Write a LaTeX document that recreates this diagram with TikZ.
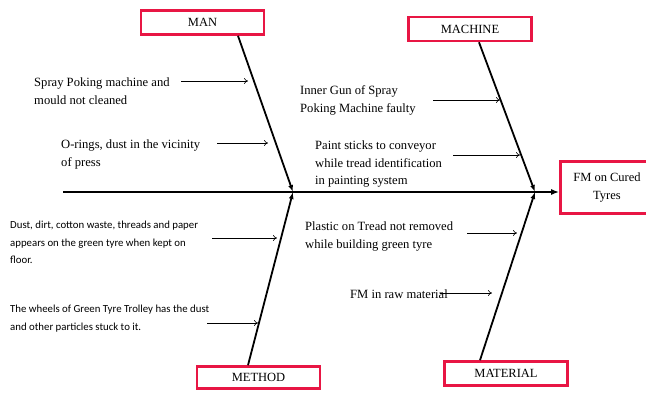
\documentclass[tikz,border=0pt]{standalone}
\usepackage{fontspec}
\setmainfont{Liberation Serif}
\newfontfamily\calibri{Carlito}
\usetikzlibrary{arrows.meta, calc}
\definecolor{boxred}{RGB}{232,22,68}

\begin{document}
\begin{tikzpicture}[x=1pt, y=-1pt, >=latex,
    catbox/.style={draw=boxred, line width=2.6pt, inner sep=0pt,
        minimum width=123pt, minimum height=24pt,
        font=\fontsize{12.5}{15}\selectfont},
    cause/.style={anchor=west, align=left, inner sep=0pt,
        font=\fontsize{12.6}{17.5}\selectfont},
    causesans/.style={anchor=west, align=left, inner sep=0pt,
        font=\calibri\fontsize{10.8}{17.5}\selectfont},
    bone/.style={line width=1.8pt, -{Latex[length=7pt, width=5pt]}},
    spine/.style={line width=2.2pt, -{Latex[length=8pt, width=6pt]}},
    causearrow/.style={line width=0.6pt, -{To[length=4pt, width=6pt]}}]
    \useasboundingbox (0,0) rectangle (646,392);
    \clip (0,0) rectangle (646,392);

    % categories and effect
    \node[catbox] (man) at (202.5,22.5) {MAN};
    \node[catbox] (machine) at (470,29) {MACHINE};
    \node[catbox, minimum height=22pt] (method) at (258.5,377.5) {METHOD};
    \node[catbox] (material) at (506,373.5) {MATERIAL};
    \node[catbox, align=center, minimum width=93pt, minimum height=52pt,
          font=\fontsize{12.5}{18}\selectfont] (fm) at (607,187.5) {FM on Cured\\Tyres};

    % spine
    \coordinate (tail) at (63,192);
    \coordinate (j1) at (293,192);
    \coordinate (j2) at (535,192);
    \draw[spine] (tail) -- (fm.west |- tail);

    % bones
    \draw[bone] ($(man.south)+(35.5,0)$) -- (j1);
    \draw[bone] ($(machine.south)+(9,0)$) -- (j2);
    \draw[bone] ($(method.north)+(-10.5,0)$) -- (j1);
    \draw[bone] ($(material.north)+(-26,0)$) -- (j2);

    % causes
    \node[cause] (spray) at (34,91) {Spray Poking machine and\\mould not cleaned};
    \node[cause] (orings) at (61,154.5) {O-rings, dust in the vicinity\\of press};
    \node[cause] (gun) at (300,100.5) {Inner Gun of Spray\\Poking Machine faulty};
    \node[cause] (paint) at (315,164) {Paint sticks to conveyor\\while tread identification\\in painting system};
    \node[causesans] (dust) at (10,242.5) {Dust, dirt, cotton waste, threads and paper\\appears on the green tyre when kept on\\floor.};
    \node[causesans] (wheels) at (10,318.5) {The wheels of Green Tyre Trolley has the dust\\and other particles stuck to it.};
    \node[cause] (plastic) at (305,236.5) {Plastic on Tread not removed\\while building green tyre};
    \node[cause] (raw) at (350,294) {FM in raw material};

    % cause arrows
    \coordinate (s1) at (181,81);  \coordinate (e1) at (248,81);
    \coordinate (s2) at (217,143); \coordinate (e2) at (268,143);
    \coordinate (s3) at (433,100); \coordinate (e3) at (500,100);
    \coordinate (s4) at (453,155); \coordinate (e4) at (520,155);
    \coordinate (s5) at (212,238); \coordinate (e5) at (277,238);
    \coordinate (s6) at (207,323); \coordinate (e6) at (258,323);
    \coordinate (s7) at (467,233); \coordinate (e7) at (517,233);
    \coordinate (s8) at (440,293); \coordinate (e8) at (492,293);
    \foreach \i in {1,...,8}
        \draw[causearrow] (s\i) -- (e\i);
\end{tikzpicture}
\end{document}
